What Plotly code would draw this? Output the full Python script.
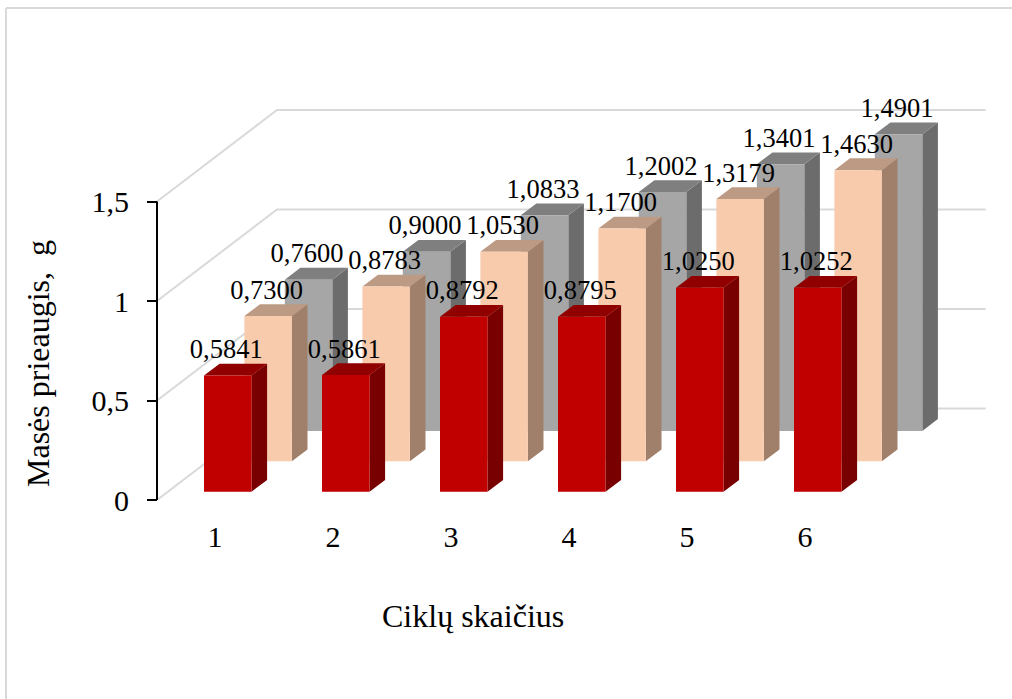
import plotly.graph_objects as go

# Cycle numbers and mass gain per series, front row to back row
cycles = [1, 2, 3, 4, 5, 6]
front_values = [0.5841, 0.5861, 0.8792, 0.8795, 1.0250, 1.0252]
middle_values = [0.7300, 0.8783, 1.0530, 1.1700, 1.3179, 1.4630]
back_values = [0.7600, 0.9000, 1.0833, 1.2002, 1.3401, 1.4901]
y_ticks = [0, 0.5, 1, 1.5]
y_tick_labels = ["0", "0,5", "1", "1,5"]

FONT = "Liberation Serif"
WIDTH, HEIGHT = 1012, 699
BOTTOM = 199           # pixels below the zero tick
AXIS_PX = 157          # pixel column of the value axis
FIRST_CAT_PX = 215     # pixel column of the first category tick

# Oblique projection used to fake depth, in axis units
PX_X = 118.0   # pixels per category
PX_Y = 199.0   # pixels per unit of mass
BAR_W = 47.5 / PX_X
DEPTH_X = 15.6 / PX_X
DEPTH_Y = 11.8 / PX_Y
ROW_X = 40.4 / PX_X
ROW_Y = 30.4 / PX_Y
FIRST_BAR = -11.0 / PX_X
BASE_Y = 8.3 / PX_Y
WALL_X = 120.0 / PX_X
WALL_Y = 91.5 / PX_Y
LABEL_LIFT = 24.0 / PX_Y

X_MIN = 1 - FIRST_CAT_PX / PX_X
X_MAX = 1 + (WIDTH - FIRST_CAT_PX) / PX_X
X_AXIS = 1 - (FIRST_CAT_PX - AXIS_PX) / PX_X
GRID_END = 1 + (985.7 - FIRST_CAT_PX) / PX_X


def polygons(cats, vals, row, face):
    """Concatenate one face of every bar in a row into a None-separated path."""
    xs, ys = [], []
    for c, v in zip(cats, vals):
        x0 = c + FIRST_BAR + row * ROW_X
        x1 = x0 + BAR_W
        y0 = BASE_Y + row * ROW_Y
        y1 = y0 + v
        if face == "front":
            px = [x0, x1, x1, x0, x0]
            py = [y0, y0, y1, y1, y0]
        elif face == "side":
            px = [x1, x1 + DEPTH_X, x1 + DEPTH_X, x1, x1]
            py = [y0, y0 + DEPTH_Y, y1 + DEPTH_Y, y1, y0]
        else:
            px = [x0, x1, x1 + DEPTH_X, x0 + DEPTH_X, x0]
            py = [y1, y1, y1 + DEPTH_Y, y1 + DEPTH_Y, y1]
        xs += px + [None]
        ys += py + [None]
    return xs, ys


fig = go.Figure()

# Floor and wall gridlines: slanted along the side wall, then flat along the back
for t in y_ticks:
    fig.add_trace(go.Scatter(
        x=[X_AXIS, X_AXIS + WALL_X, GRID_END],
        y=[t, t + WALL_Y, t + WALL_Y],
        mode="lines", line=dict(color="#D9D9D9", width=2),
        hoverinfo="skip", showlegend=False,
    ))

rows = [
    (2, back_values, "#A6A6A6", "#6C6C6C", "#7F7F7F"),
    (1, middle_values, "#F8CBAD", "#A0806B", "#BC9A84"),
    (0, front_values, "#C00000", "#780000", "#900000"),
]

for row, vals, col_front, col_side, col_top in rows:
    for face, col in (("side", col_side), ("top", col_top), ("front", col_front)):
        xs, ys = polygons(cycles, vals, row, face)
        fig.add_trace(go.Scatter(
            x=xs, y=ys, mode="lines", fill="toself", fillcolor=col,
            line=dict(width=0, color=col), hoverinfo="skip",
            showlegend=False,
        ))

# Value axis line stops at the top tick
fig.add_trace(go.Scatter(
    x=[X_AXIS, X_AXIS], y=[y_ticks[0], y_ticks[-1]], mode="lines",
    line=dict(color="black", width=2), hoverinfo="skip",
    showlegend=False,
))

# Value labels sit on top of everything
for row, vals, _, _, _ in rows[::-1]:
    fig.add_trace(go.Scatter(
        x=[c + FIRST_BAR + row * ROW_X + BAR_W / 2 - 1.5 / PX_X for c in cycles],
        y=[BASE_Y + row * ROW_Y + v + LABEL_LIFT for v in vals],
        text=[f"{v:.4f}".replace(".", ",") for v in vals],
        mode="text", textposition="middle center",
        textfont=dict(family=FONT, size=26.5, color="black"),
        hoverinfo="skip", showlegend=False, cliponaxis=False,
    ))

plot_h = HEIGHT - BOTTOM


def paper_y(py):
    return (plot_h - py) / plot_h


fig.update_layout(
    width=WIDTH, height=HEIGHT,
    margin=dict(l=0, r=0, t=0, b=BOTTOM, pad=0),
    paper_bgcolor="white", plot_bgcolor="rgba(0,0,0,0)",
    showlegend=False,
    font=dict(family=FONT, color="black"),
    xaxis=dict(
        range=[X_MIN, X_MAX], tickmode="array", tickvals=cycles,
        ticktext=[str(c) for c in cycles], ticks="", showgrid=False,
        zeroline=False, showline=False, ticklabelstandoff=16,
        tickfont=dict(family=FONT, size=30),
    ),
    yaxis=dict(
        range=[0, plot_h / PX_Y], tickmode="array", tickvals=y_ticks,
        ticktext=y_tick_labels, ticks="outside", ticklen=10, tickwidth=2,
        tickcolor="black", showgrid=False, zeroline=False, showline=False,
        anchor="free", position=AXIS_PX / WIDTH,
        ticklabelstandoff=12, tickfont=dict(family=FONT, size=30),
    ),
    # Frame of the chart area: left and top edges only
    shapes=[
        dict(type="line", xref="paper", yref="paper", layer="below",
             x0=6 / WIDTH, x1=6 / WIDTH, y0=paper_y(8), y1=paper_y(HEIGHT),
             line=dict(color="#D9D9D9", width=2)),
        dict(type="line", xref="paper", yref="paper", layer="below",
             x0=6 / WIDTH, x1=1, y0=paper_y(8), y1=paper_y(8),
             line=dict(color="#D9D9D9", width=2)),
    ],
    annotations=[
        dict(text="Ciklų skaičius", xref="paper", yref="paper",
             x=473 / WIDTH, y=paper_y(616), xanchor="center", yanchor="middle",
             showarrow=False, font=dict(family=FONT, size=32)),
        dict(text="Masės prieaugis,\u00a0\u00a0g", xref="paper", yref="paper",
             x=38 / WIDTH, y=paper_y(364), xanchor="center", yanchor="middle",
             textangle=-90, showarrow=False, font=dict(family=FONT, size=32)),
    ],
)

fig.write_html("out.html")
